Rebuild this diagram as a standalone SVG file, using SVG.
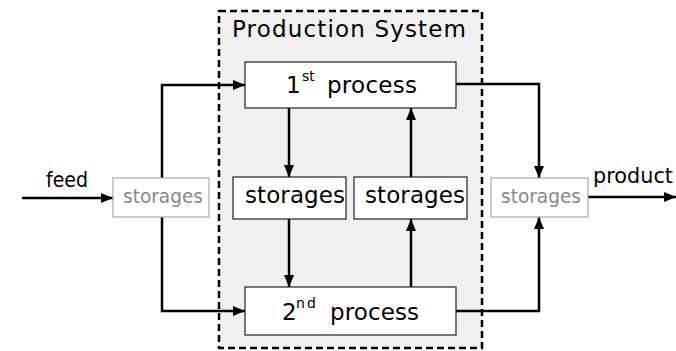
<svg xmlns="http://www.w3.org/2000/svg" width="676" height="351" viewBox="0 0 676 351">
  <style>
    text { font-family: "DejaVu Sans", "Liberation Sans", sans-serif; fill: #000; }
    .box { fill: #fff; stroke: #222; stroke-width: 1.2; }
    .ext { fill: #fff; stroke: #aaa; stroke-width: 1.2; }
    .ext-label { fill: #888; font-size: 19px; }
    .proc { font-size: 23px; }
    .sup { font-size: 14px; }
    .store { font-size: 23px; }
    .flow { fill: none; stroke: #000; stroke-width: 2.5; }
  </style>
  <defs>
    <marker id="arrow" viewBox="0 0 12 10" refX="12" refY="5" markerWidth="12" markerHeight="10" markerUnits="userSpaceOnUse" orient="auto">
      <path d="M0,0 L12,5 L0,10 z" fill="#000"/>
    </marker>
  </defs>

  <!-- production system boundary -->
  <g id="production-system">
    <rect x="219" y="11" width="263" height="337" fill="#f0f0f0" stroke="#000" stroke-width="2.5" stroke-dasharray="7,4"/>
    <text x="232" y="37" font-size="23" textLength="234" lengthAdjust="spacing">Production System</text>
  </g>

  <!-- connectors -->
  <g id="connectors">
    <line class="flow" x1="22" y1="198" x2="113" y2="198" marker-end="url(#arrow)"/>
    <polyline class="flow" points="162,178 162,85 245,85" marker-end="url(#arrow)"/>
    <polyline class="flow" points="162,217 162,311 245,311" marker-end="url(#arrow)"/>
    <line class="flow" x1="289" y1="108" x2="289" y2="177" marker-end="url(#arrow)"/>
    <line class="flow" x1="289" y1="219" x2="289" y2="287" marker-end="url(#arrow)"/>
    <line class="flow" x1="411" y1="287" x2="411" y2="219" marker-end="url(#arrow)"/>
    <line class="flow" x1="411" y1="177" x2="411" y2="108" marker-end="url(#arrow)"/>
    <polyline class="flow" points="456,84 539,84 539,178" marker-end="url(#arrow)"/>
    <polyline class="flow" points="456,311 539,311 539,217" marker-end="url(#arrow)"/>
    <line class="flow" x1="588" y1="197" x2="676" y2="197" marker-end="url(#arrow)"/>
    <text x="46" y="187" font-size="21" textLength="42" lengthAdjust="spacingAndGlyphs">feed</text>
    <text x="593" y="183" font-size="21" textLength="80" lengthAdjust="spacingAndGlyphs">product</text>
  </g>

  <g id="input-storages">
    <rect class="ext" x="113" y="178" width="96" height="39"/>
    <text class="ext-label" x="123" y="203" textLength="80" lengthAdjust="spacingAndGlyphs">storages</text>
  </g>

  <g id="output-storages">
    <rect class="ext" x="491" y="178" width="97" height="39"/>
    <text class="ext-label" x="501" y="203" textLength="80" lengthAdjust="spacingAndGlyphs">storages</text>
  </g>

  <g id="process-1">
    <rect class="box" x="245" y="62" width="211" height="46"/>
    <text class="proc" x="286" y="93">1</text>
    <text class="sup" x="302" y="81">st</text>
    <text class="proc" x="327" y="93" textLength="90" lengthAdjust="spacing">process</text>
  </g>

  <g id="process-2">
    <rect class="box" x="245" y="287" width="211" height="48"/>
    <text class="proc" x="282" y="320">2</text>
    <text class="sup" x="296" y="308" textLength="20" lengthAdjust="spacing">nd</text>
    <text class="proc" x="330" y="320" textLength="89" lengthAdjust="spacing">process</text>
  </g>

  <g id="storages-down">
    <rect class="box" x="233" y="177" width="113" height="42"/>
    <text class="store" x="245" y="203" textLength="100" lengthAdjust="spacing">storages</text>
  </g>

  <g id="storages-up">
    <rect class="box" x="354" y="177" width="113" height="42"/>
    <text class="store" x="365" y="203" textLength="100" lengthAdjust="spacing">storages</text>
  </g>
</svg>
